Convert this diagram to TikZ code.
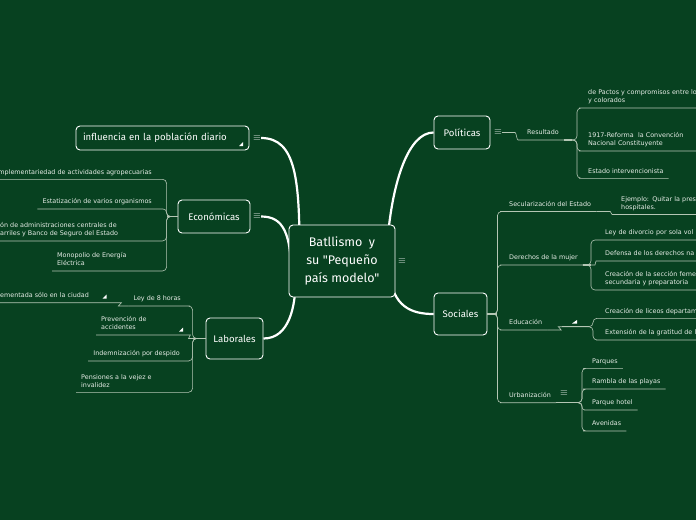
\documentclass[tikz,border=0pt]{standalone}
\usepackage{fontspec}
\setmainfont{DejaVu Sans}
\newfontfamily\handfont{Fira Sans}
\usepackage{tikz}
\usetikzlibrary{positioning}
\definecolor{boardgreen}{HTML}{074120}
\definecolor{twiggray}{HTML}{B4C6B4}
\definecolor{leafwhite}{HTML}{E6ECE6}
\pgfdeclarelayer{back}
\pgfsetlayers{back,main}
\tikzset{%
	topic/.style   = {draw=white, fill=boardgreen, rounded corners=4pt, line width=0.9pt, text=white, align=center, font=\handfont\fontsize{9.6}{12}\selectfont}, % main topics
	central/.style = {topic, minimum width=106pt, minimum height=72pt, font=\handfont\fontsize{12.5}{18}\selectfont}, % root
	leaf/.style    = {text=leafwhite, inner xsep=5pt, inner ysep=2.5pt, align=left, font=\fontsize{6.4}{8}\selectfont, execute at end node=\strut}, % underlined text
	twig/.style    = {draw=twiggray, line width=0.6pt, rounded corners=4pt}, % thin branch
	stem/.style    = {twig, line width=1.3pt}, % branch root
	spine/.style   = {draw=white, line width=2.2pt}, % main curve
	icon/.style    = {text=white, inner sep=0pt, font=\fontsize{10}{10}\selectfont}, % menu sign
	flag/.style    = {fill=white}, % small triangle
}

\begin{document}
\begin{tikzpicture}[x=1pt,y=-1pt]
	\useasboundingbox (0,0) rectangle (696,520);
	\begin{pgfonlayer}{back}
		\fill[boardgreen] (0,0) rectangle (696,520);
	\end{pgfonlayer}

	% topics
	\node [central] (c) at (342,261) {Batllismo\ \ y\\su "Pequeño\\país modelo"};
	\node [topic,minimum width=56pt,minimum height=33pt] (pol) at (462,132.5) {Políticas};
	\node [topic,minimum width=53pt,minimum height=42pt] (soc) at (460.5,314) {Sociales};
	\node [topic,minimum width=72pt,minimum height=33pt] (eco) at (214,216.5) {Económicas};
	\node [topic,minimum width=57pt,minimum height=41pt] (lab) at (234.5,338.5) {Laborales};
	\node [topic,inner xsep=7pt,text width=159pt,align=left,minimum height=24pt] (inf) at (162.5,138) {influencia en la población diario};

	\node [icon] (ci) [right of=c,node distance=60pt] {$\equiv$};
	\node [icon] (poli) [right of=pol,node distance=36pt] {$\equiv$};
	\node [icon] (ecoi) [right of=eco,node distance=43pt] {$\equiv$};
	\node [icon] (infi) [right of=inf,node distance=94.5pt] {$\equiv$};

	% Politicas
	\node [leaf,anchor=south west] (res) at (522,140) {Resultado};
	\node [leaf,anchor=south west,text width=120pt] (pac) at (583,108) {de Pactos y compromisos entre lo\\y colorados};
	\node [leaf,anchor=south west,text width=120pt] (ref) at (583,151) {1917-Reforma\ \ la Convención\\Nacional Constituyente};
	\node [leaf,anchor=south west] (intv) at (583,178.3) {Estado intervencionista};
	\coordinate (pj) at (572,140);

	% Sociales
	\node [leaf,anchor=south west] (sec) at (504,211.5) {Secularización del Estado};
	\node [leaf,anchor=south west,text width=90pt] (ejm) at (616,214.5) {Ejemplo: Quitar la pres\\hospitales.};
	\node [leaf,anchor=south west] (der) at (504,265) {Derechos de la mujer};
	\node [leaf,anchor=south west,text width=100pt] (div) at (600,240) {Ley de divorcio por sola vol};
	\node [leaf,anchor=south west,text width=100pt] (def) at (600,261) {Defensa de los derechos na};
	\node [leaf,anchor=south west,text width=100pt] (fem) at (600,290) {Creación de la sección feme\\secundaria y preparatoria};
	\node [leaf,anchor=south west] (edu) at (504,330) {Educación};
	\node [leaf,anchor=south west,text width=100pt] (lic) at (600,318.3) {Creación de liceos departam};
	\node [leaf,anchor=south west,text width=100pt] (gra) at (600,340) {Extensión de la gratitud de l};
	\node [leaf,anchor=south west] (urb) at (504,402.7) {Urbanización};
	\node [leaf,anchor=south west] (par) at (587,368.3) {Parques};
	\node [leaf,anchor=south west] (ram) at (587,389) {Rambla de las playas};
	\node [leaf,anchor=south west] (hot) at (587,410) {Parque hotel};
	\node [leaf,anchor=south west] (ave) at (587,431) {Avenidas};
	\node [icon] (urbi) at (564,393) {$\equiv$};
	\coordinate (ej) at (589,326.7);
	\coordinate (uj) at (578,402.7);

	% Economicas
	\node [leaf,anchor=south east,align=right] (agr) at (157,179.3) {mplementariedad de actividades agropecuarias};
	\node [leaf,anchor=south east,align=right] (esta) at (157,209) {Estatización de varios organismos};
	\node [leaf,anchor=south west] (adm) at (-5,241) {ón de administraciones centrales de\\arriles y Banco de Seguro del Estado};
	\node [leaf,anchor=south west] (mon) at (52,271) {Monopolio de Energía\\Eléctrica};

	% Laborales
	\node [leaf,anchor=south east] (ocho) at (186,306) {Ley de 8 horas};
	\node [leaf,anchor=south west] (impl) at (-5,302.7) {ementada sólo en la ciudad};
	\node [leaf,anchor=south west,text width=80pt] (prev) at (96,335) {Prevención de\\accidentes};
	\node [leaf,anchor=south east] (ind) at (185,361) {Indemnización por despido};
	\node [leaf,anchor=south west] (pen) at (76,392.3) {Pensiones a la vejez e\\invalidez};

	\fill[flag,shift={(241,144)}] (-2,2) -- (2,2) -- (2,-2) -- cycle;
	\fill[flag,shift={(104.5,296.5)}] (-2,2) -- (2,2) -- (2,-2) -- cycle;
	\fill[flag,shift={(181,329.5)}] (-2,2) -- (2,2) -- (2,-2) -- cycle;
	\fill[flag,shift={(575,322)}] (-3,1.5) -- (2,1.5) -- (2,-2) -- cycle;

	% main curves
	\begin{pgfonlayer}{back}
		\draw[spine] ([shift={(-8,-20)}]c.east) .. controls +(5,-60) and +(-25,0) .. (pol.west);
		\draw[spine] ([shift={(-6,11)}]c.east) .. controls +(3,35) and +(-22,0) .. (soc.west);
		\draw[spine] ([shift={(3,21)}]c.west) .. controls +(0,-50) and +(22,0) .. (ecoi.east);
		\draw[spine] ([shift={(11,-6)}]c.west) .. controls +(0,-75) and +(35,0) .. (infi.east);
		\draw[spine] ([shift={(7,19)}]c.west) .. controls +(0,26) and +(26,0) .. (lab.east);
	\end{pgfonlayer}

	% branches
	\draw[twig] (poli.east) -- ++(9,0) to[out=0,in=180] (res.south west) -- (res.south east);
	\draw[stem] (res.south east) -- (pj);
	\draw[twig] (pj) -- ++(5,0) |- (pac.south west) -- (pac.south east);
	\draw[twig] (pj) -- ++(5,0) |- (ref.south west) -- (ref.south east);
	\draw[twig] (pj) -- ++(5,0) |- (intv.south west) -- (intv.south east);

	\draw[stem] (soc.east) -- ++(10,0);
	\draw[twig] (soc.east) -- ++(10,0) |- (sec.south west) -- (sec.south east);
	\draw[twig] (soc.east) -- ++(10,0) |- (der.south west) -- (der.south east);
	\draw[twig] (soc.east) -- ++(10,0) |- (edu.south west) -- (edu.south east);
	\draw[twig] (soc.east) -- ++(10,0) |- (urb.south west) -- (urb.south east);
	\draw[twig] (sec.south east) -- ++(10,0) to[out=0,in=180] (ejm.south west) -- (ejm.south east);
	\draw[stem] (der.south east) -- ++(8,0);
	\draw[twig] (der.south east) -- ++(8,0) |- (div.south west) -- (div.south east);
	\draw[twig] (der.south east) -- ++(8,0) to[out=0,in=180] (def.south west) -- (def.south east);
	\draw[twig] (der.south east) -- ++(8,0) |- (fem.south west) -- (fem.south east);
	\draw[twig] (edu.south east) -- ++(10,0) to[out=0,in=180] ++(5,-3.3) -- (ej);
	\draw[stem] ([xshift=2pt]edu.south east) ++(13,-3.3) -- (ej);
	\draw[twig] (ej) -- ++(4,0) |- (lic.south west) -- (lic.south east);
	\draw[twig] (ej) -- ++(4,0) |- (gra.south west) -- (gra.south east);
	\draw[stem] (urb.south east) -- (uj);
	\draw[twig] (uj) -- ++(4,0) |- (par.south west) -- (par.south east);
	\draw[twig] (uj) -- ++(4,0) |- (ram.south west) -- (ram.south east);
	\draw[twig,rounded corners=3pt] (uj) -- ++(4,0) |- (hot.south west) -- (hot.south east);
	\draw[twig] (uj) -- ++(4,0) |- (ave.south west) -- (ave.south east);

	\draw[stem] (eco.west) -- ++(-11,0);
	\draw[twig] (eco.west) -- ++(-11,0) |- (agr.south east) -- (agr.south west);
	\draw[twig,rounded corners=3.5pt] (eco.west) -- ++(-11,0) |- (esta.south east) -- (esta.south west);
	\draw[twig] (eco.west) -- ++(-11,0) |- (adm.south east) -- (adm.south west);
	\draw[twig] (eco.west) -- ++(-11,0) |- (mon.south east) -- (mon.south west);

	\draw[stem] (lab.west) -- ++(-13,0);
	\draw[twig] (lab.west) -- ++(-13,0) |- (ocho.south east) -- (ocho.south west);
	\draw[twig] (lab.west) -- ++(-13,0) to[out=180,in=0] (prev.south east) -- (prev.south west);
	\draw[twig] (lab.west) -- ++(-13,0) |- (ind.south east) -- (ind.south west);
	\draw[twig] (lab.west) -- ++(-13,0) |- (pen.south east) -- (pen.south west);
	\draw[twig] (ocho.south west) -- ++(-6,0) to[out=180,in=0] ++(-5,-3.3) -- (impl.south east) -- (impl.south west);
\end{tikzpicture}
\end{document}
